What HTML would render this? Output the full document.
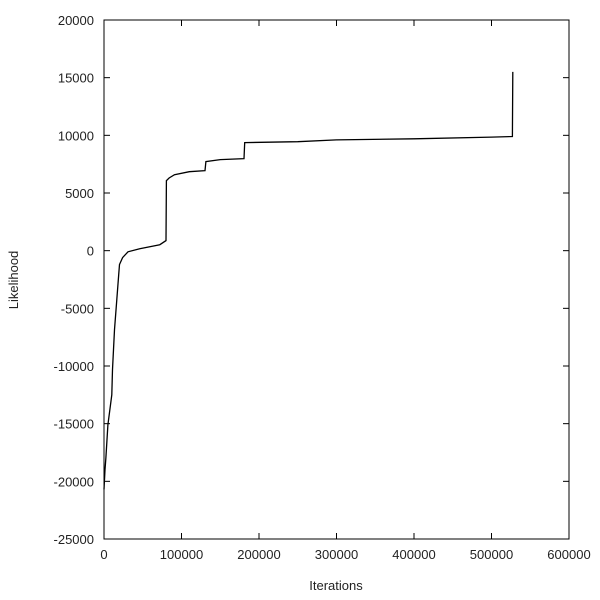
<!DOCTYPE html>
<html><head><meta charset="utf-8"><style>
body{margin:0;background:#fff}
svg{display:block;font-family:"Liberation Sans",sans-serif;font-size:13px;fill:#222}
</style></head><body>
<svg id="c" width="600" height="600"></svg>
<script>
const xTicks=[0,100000,200000,300000,400000,500000,600000];
const yTicks=[-25000,-20000,-15000,-10000,-5000,0,5000,10000,15000,20000];
const iterations=[0,1300,2500,5000,10000,11000,13500,16500,19000,20000,24000,31000,46000,72000,80000,80500,84000,91000,110000,130300,131500,150000,180600,181500,250000,300000,400000,500000,527000,527500];
const likelihood=[-20700,-19000,-17950,-15100,-12500,-10300,-6850,-4250,-2080,-1200,-600,-100,170,520,870,6070,6300,6590,6850,6940,7720,7900,7980,9370,9450,9600,9700,9850,9900,15500];
const L=104,R=569,T=20,B=539;
const sx=v=>L+(v-0)/600000*(R-L);
const sy=v=>B-(v+25000)/45000*(B-T);
const svg=document.getElementById('c');const NS='http://www.w3.org/2000/svg';
function mk(t,a,p){const e=document.createElementNS(NS,t);for(const k in a)e.setAttribute(k,a[k]);(p||svg).appendChild(e);return e;}
const frame=mk('rect',{x:L,y:T,width:R-L,height:B-T,fill:'none',stroke:'#000','stroke-width':1});


xTicks.forEach(v=>{const x=sx(v);
 const t1=mk('line',{x1:x,y1:B,x2:x,y2:B-6,stroke:'#000'});
 
 
 const t2=mk('line',{x1:x,y1:T,x2:x,y2:T+6,stroke:'#000'});
 
 
 const tx=mk('text',{x:x,y:B+20,'text-anchor':'middle'});tx.textContent=v;
 
 
});
yTicks.forEach(v=>{const y=sy(v);
 const t1=mk('line',{x1:L,y1:y,x2:L+6,y2:y,stroke:'#000'});
 
 
 const t2=mk('line',{x1:R,y1:y,x2:R-6,y2:y,stroke:'#000'});
 
 
 const tx=mk('text',{x:L-10,y:y+5,'text-anchor':'end'});tx.textContent=v;
 
 
});
const pts=iterations.map((v,i)=>sx(v).toFixed(1)+','+sy(likelihood[i]).toFixed(1)).join(' ');
const line=mk('polyline',{points:pts,fill:'none',stroke:'#000','stroke-width':1.3});


const xl=mk('text',{x:336,y:590,'text-anchor':'middle'});xl.textContent='Iterations';


const yl=mk('text',{x:18,y:280,'text-anchor':'middle',transform:'rotate(-90 18 280)'});yl.textContent='Likelihood';


</script>
</body></html>
